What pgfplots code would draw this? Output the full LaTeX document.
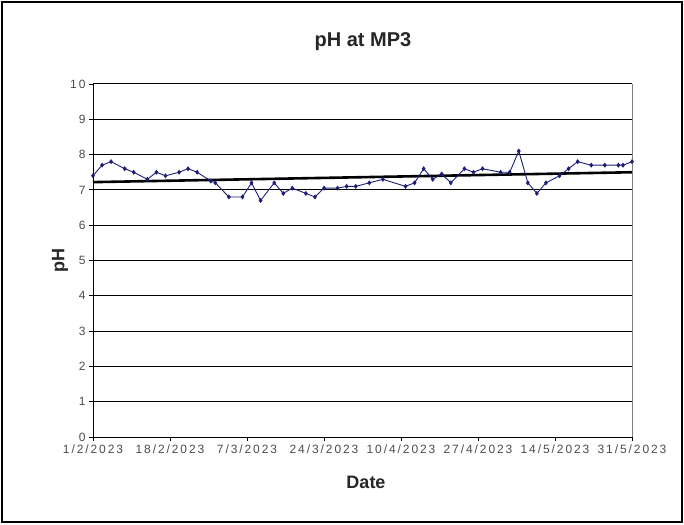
\documentclass[border=0pt]{standalone}
\usepackage{fontspec}
\setmainfont{Liberation Sans}
\newfontfamily\tickfont[LetterSpace=16]{Liberation Sans}
\usepackage{pgfplots}
\pgfplotsset{compat=1.18}
\definecolor{navyline}{RGB}{30,30,120}
\begin{document}
\begin{tikzpicture}[x=1pt,y=1pt]
\useasboundingbox (0,0) rectangle (684,524);
\fill[white] (0,0) rectangle (684,524);
\draw[line width=1.6pt] (2,2) rectangle (682,522);
\begin{axis}[
  at={(93pt,87pt)}, anchor=south west,
  width=539pt, height=353pt, scale only axis,
  xmin=0, xmax=119, ymin=0, ymax=10,
  xtick={0,17,34,51,68,85,102,119},
  xticklabels={1/2/2023,18/2/2023,7/3/2023,24/3/2023,10/4/2023,27/4/2023,14/5/2023,31/5/2023},
  ytick={0,1,...,10},
  axis lines=left, axis line style={-, black, line width=1pt},
  ymajorgrids, grid style={black, line width=1pt},
  tick align=outside, major tick length=4pt,
  tick style={black, line width=0.8pt},
  ticklabel style={font=\tickfont\fontsize{12}{14}\selectfont, text=black!70},
  /pgf/number format/assume math mode=true,
  clip=false,
]
\addplot[black, line width=2.6pt, forget plot] coordinates {(0,7.22) (119,7.5)};
\addplot[navyline, line width=0.9pt, mark=diamond*, mark size=1.8pt, mark options={solid, fill=navyline}] coordinates {
(0,7.4) (2,7.7) (4,7.8) (7,7.6) (9,7.5) (12,7.3) (14,7.5) (16,7.4) (19,7.5) (21,7.6)
(23,7.5) (26,7.25) (27,7.2) (30,6.8) (33,6.8) (35,7.2) (37,6.7) (40,7.2) (42,6.9) (44,7.05)
(47,6.9) (49,6.8) (51,7.05) (54,7.05) (56,7.1) (58,7.1) (61,7.2) (64,7.3) (69,7.1) (71,7.2)
(73,7.6) (75,7.3) (77,7.45) (79,7.2) (82,7.6) (84,7.5) (86,7.6) (90,7.5) (92,7.5) (94,8.1)
(96,7.2) (98,6.9) (100,7.2) (103,7.4) (105,7.6) (107,7.8) (110,7.7) (113,7.7) (116,7.7) (117,7.7)
(119,7.8)};
\draw[gray, line width=1pt] (rel axis cs:1,0) -- (rel axis cs:1,1);
\end{axis}
\node[font=\bfseries\fontsize{20}{24}\selectfont, text=black!85] at (363,482) {pH at MP3};
\node[font=\bfseries\fontsize{18}{22}\selectfont, text=black!85] at (366,42) {Date};
\node[font=\bfseries\fontsize{18}{22}\selectfont, text=black!85, rotate=90] at (60,263) {pH};
\end{tikzpicture}
\end{document}
